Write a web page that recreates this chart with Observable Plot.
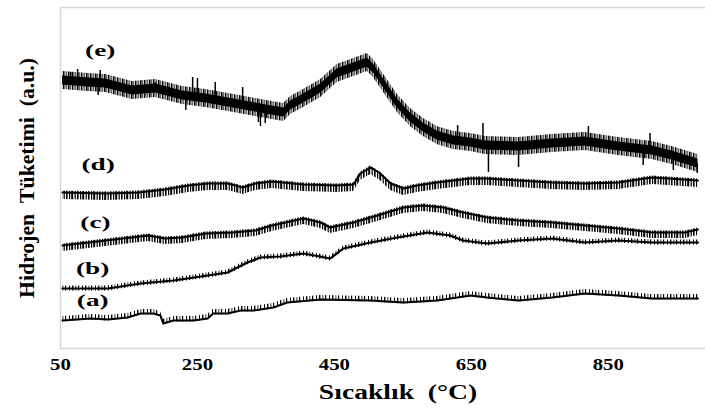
<!DOCTYPE html>
<html>
<head>
<meta charset="utf-8">
<script src="https://cdn.jsdelivr.net/npm/d3@7"></script>
<script src="https://cdn.jsdelivr.net/npm/@observablehq/plot@0.6"></script>
<style>
  html, body { margin: 0; padding: 0; background: #ffffff; }
  #chart { width: 705px; height: 412px; overflow: hidden; }
</style>
</head>
<body>
<div id="chart"></div>
<script>
// ---- Data (temperature in °C, signal in arbitrary units) ----
const xTicks = [50, 250, 450, 650, 850];

const tempE = [53, 91, 116, 155, 189, 228, 262, 295, 335, 359, 376, 386, 405, 430, 454, 478, 498, 507, 522, 542, 561, 580, 600, 624, 649, 670, 719, 768, 816, 865, 914, 943, 981];
const sigE  = [268, 266, 265, 258, 260, 253, 250, 246, 241, 238, 236, 243, 250, 260, 275, 281, 286, 280, 265, 245, 231, 221, 213, 208, 206, 203, 202, 205, 207, 202, 198, 193, 185];

const tempD = [53, 116, 164, 203, 237, 266, 295, 316, 335, 359, 405, 454, 478, 488, 503, 517, 532, 551, 571, 600, 649, 673, 719, 768, 816, 865, 914, 938, 981];
const sigD  = [156, 155, 156, 159, 163, 165, 165, 161, 165, 167, 164, 163, 164, 175, 181, 175, 165, 160, 163, 166, 170, 170, 168, 166, 165, 166, 171, 170, 168];

const tempC = [53, 91, 141, 178, 203, 228, 262, 301, 335, 359, 405, 430, 444, 478, 513, 551, 580, 609, 638, 673, 719, 768, 816, 865, 914, 962, 981];
const sigC  = [103, 106, 110, 113, 110, 111, 115, 116, 118, 123, 130, 126, 121, 126, 133, 141, 143, 141, 136, 131, 128, 126, 123, 120, 116, 116, 119];

const tempB = [53, 69, 119, 167, 215, 265, 294, 323, 342, 371, 405, 444, 463, 503, 542, 586, 619, 638, 673, 719, 768, 816, 865, 914, 981];
const sigB  = [60, 60, 60, 65, 68, 73, 76, 86, 91, 92, 95, 90, 100, 106, 111, 116, 113, 108, 105, 108, 110, 106, 108, 106, 106];

const tempA = [53, 94, 119, 148, 167, 186, 196, 200, 215, 244, 265, 273, 294, 313, 332, 361, 381, 430, 503, 551, 600, 649, 673, 719, 768, 816, 865, 914, 981];
const sigA  = [28, 30, 29, 31, 35, 35, 33, 25, 28, 28, 30, 35, 35, 38, 38, 41, 46, 49, 48, 46, 48, 53, 51, 48, 51, 55, 53, 50, 50];

// noise spread of each trace (a.u.): core band and outer (spiky) band, above / below the mean level
const seriesNames = ["a", "b", "c", "d", "e"];
const coreUp    = [1, 1.2, 1, 1, 4.5];
const coreDown  = [1, 1.2, 1, 1, 4.5];
const noiseUp   = [4, 2.5, 1.5, 1.5, 9];
const noiseDown = [1.5, 2.5, 6, 7, 9];

// visible long spikes of trace (e): temperature and spike tip
const eSpikeT   = [65, 75, 105, 108, 189, 233, 243, 250, 276, 316, 339, 342, 349, 630, 667, 675, 719, 821, 901, 911, 945, 980];
const eSpikeTip = [276, 279, 253, 278, 266, 238, 271, 270, 266, 261, 226, 222, 225, 223, 225, 176, 181, 222, 183, 215, 178, 175];

// series labels
const labelText = ["(a)", "(b)", "(c)", "(d)", "(e)"];
const labelT    = [97, 97, 101, 105, 108];
const labelV    = [48, 80, 126, 184, 298];

const xTitle = "Sıcaklık\u00a0\u00a0(°C)";
const yTitle = "Hidrojen\u00a0\u00a0Tüketimi\u00a0\u00a0(a.u.)";

// ---- build tables ----
const temps = {a: tempA, b: tempB, c: tempC, d: tempD, e: tempE};
const sigs  = {a: sigA, b: sigB, c: sigC, d: sigD, e: sigE};
const series = {};
seriesNames.forEach((n, i) => {
  series[n] = temps[n].map((t, j) => {
    const v = sigs[n][j];
    return {t, v, lo: v - noiseDown[i], hi: v + noiseUp[i], clo: v - coreDown[i], chi: v + coreUp[i]};
  });
});
const baseAt = (n, t) => {
  const T = temps[n], V = sigs[n];
  const k = Math.max(1, Math.min(T.length - 1, d3.bisectLeft(T, t)));
  const f = (t - T[k - 1]) / (T[k] - T[k - 1]);
  return V[k - 1] + f * (V[k] - V[k - 1]);
};
const eSpikes = eSpikeT.map((t, i) => ({t, tip: eSpikeTip[i], base: baseAt("e", t)}));
const labels = labelText.map((s, i) => ({s, t: labelT[i], v: labelV[i]}));

const frameColor = "#d6d6d6";
const fam = "'Liberation Serif', 'Times New Roman', serif";

const chart = Plot.plot({
  width: 705,
  height: 412,
  marginLeft: 60,
  marginRight: 0,
  marginTop: 7,
  marginBottom: 64,
  x: {domain: [50, 992]},
  y: {domain: [0, 341], axis: null},
  style: {fontFamily: fam, fontWeight: "bold", background: "#ffffff", color: "#000"},
  marks: [
    Plot.ruleY([0, 341], {stroke: frameColor, strokeWidth: 1.5}),
    Plot.ruleX([50], {stroke: frameColor, strokeWidth: 1.5}),
    Plot.axisX({ticks: xTicks, tickSize: 0, tickPadding: 10, label: null, fontSize: 16, fontWeight: "bold"}),

    // (a)
    Plot.areaY(series.a, {x: "t", y1: "lo", y2: "hi", fill: "url(#hairA)"}),
    Plot.line(series.a, {x: "t", y: "v", stroke: "#000", strokeWidth: 2}),
    // (b)
    Plot.areaY(series.b, {x: "t", y1: "lo", y2: "hi", fill: "url(#hairA)"}),
    Plot.line(series.b, {x: "t", y: "v", stroke: "#000", strokeWidth: 2.2}),
    // (c)
    Plot.areaY(series.c, {x: "t", y1: "lo", y2: "hi", fill: "url(#comb)"}),
    Plot.line(series.c, {x: "t", y: "v", stroke: "#000", strokeWidth: 2}),
    // (d)
    Plot.areaY(series.d, {x: "t", y1: "lo", y2: "hi", fill: "url(#comb)"}),
    Plot.line(series.d, {x: "t", y: "v", stroke: "#000", strokeWidth: 2}),
    // (e)
    Plot.areaY(series.e, {x: "t", y1: "lo", y2: "hi", fill: "url(#hairE)"}),
    Plot.areaY(series.e, {x: "t", y1: "clo", y2: "chi", fill: "#000"}),
    Plot.ruleX(eSpikes, {x: "t", y1: "base", y2: "tip", stroke: "#000", strokeWidth: 1.5}),

    // labels
    Plot.text(labels, {x: "t", y: "v", text: "s", fontSize: 17, fontWeight: "bold", fill: "#000"}),
    Plot.text([yTitle], {frameAnchor: "left", textAnchor: "middle", lineAnchor: "middle", rotate: -90, dx: -34, fontSize: 22, fontWeight: "bold", fill: "#000"}),
    Plot.text([xTitle], {frameAnchor: "bottom", textAnchor: "middle", lineAnchor: "middle", dy: 44, dx: 15, fontSize: 20, fontWeight: "bold", fill: "#000"})
  ]
});

// stripe patterns that give the traces their noisy texture
const defs = d3.select(chart).insert("defs", ":first-child");
const addPattern = (id, w, bars) => {
  const p = defs.append("pattern").attr("id", id).attr("patternUnits", "userSpaceOnUse")
    .attr("width", w).attr("height", 400);
  bars.forEach(([x, bw]) => p.append("rect").attr("x", x).attr("y", 0).attr("width", bw).attr("height", 400).attr("fill", "#000"));
};
addPattern("comb", 11, [[0, 1.6], [3, 1.2], [5.2, 2], [8.6, 1.2]]);
addPattern("hairA", 13, [[0, 1.2], [4, 1], [7, 1.4], [10.5, 0.8]]);
addPattern("hairE", 9, [[0, 1.5], [2.6, 1], [4.8, 1.8], [7.4, 0.8]]);

document.getElementById("chart").append(chart);

// the reference's lettering is drawn horizontally widened
const fit = (el, len) => {
  el.setAttribute("textLength", len.toFixed(1));
  el.setAttribute("lengthAdjust", "spacingAndGlyphs");
};
chart.querySelectorAll('g[aria-label="x-axis tick label"] text').forEach(el => fit(el, el.getComputedTextLength() * 1.3));
const textGroups = chart.querySelectorAll('g[aria-label="text"]');
textGroups[0].querySelectorAll("text").forEach(el => fit(el, el.getComputedTextLength() * 1.6));
textGroups[1].querySelectorAll("text").forEach(el => fit(el, 240));
textGroups[2].querySelectorAll("text").forEach(el => fit(el, el.getComputedTextLength() * 1.38));
</script>
</body>
</html>
